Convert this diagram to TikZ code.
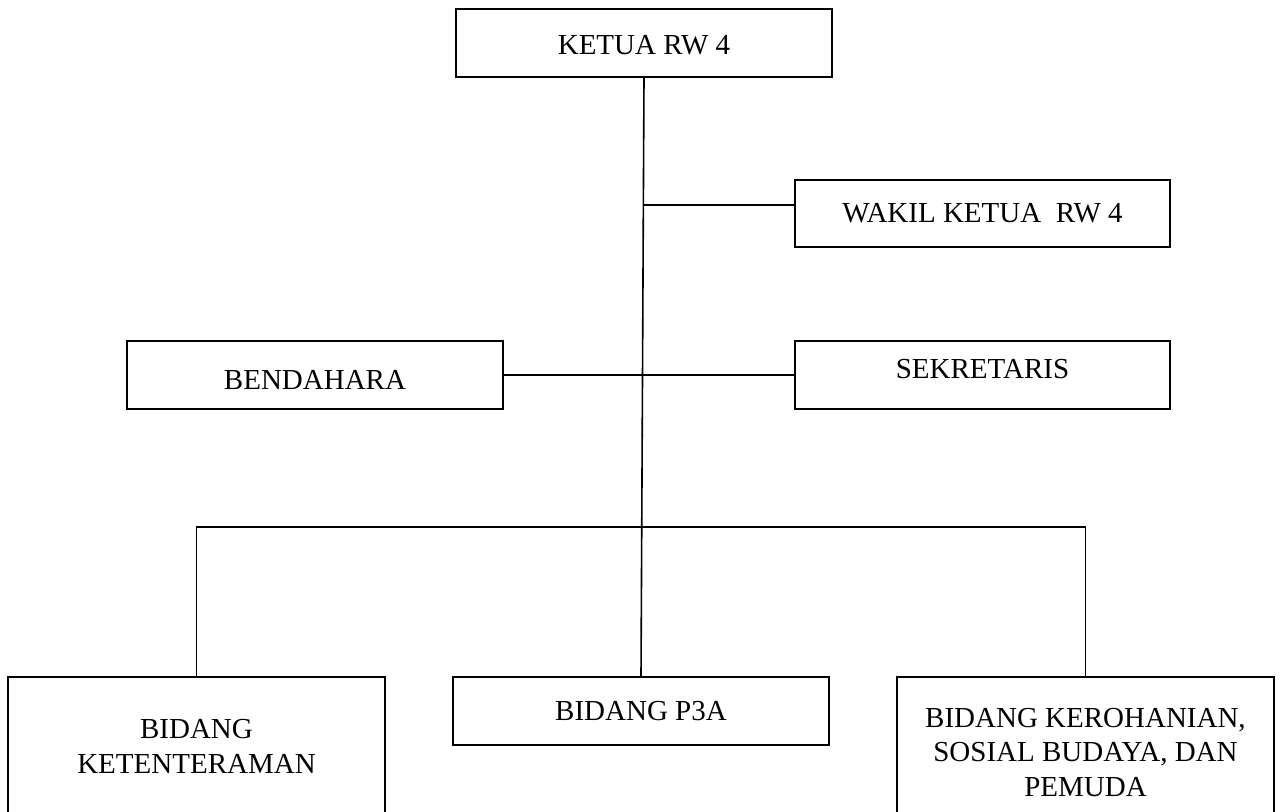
\documentclass[tikz,border=0pt]{standalone}
\usepackage{fontspec}
\setmainfont{Liberation Serif}
\begin{document}
\begin{tikzpicture}[x=0.5pt,y=-0.5pt,
  font=\fontsize{14.5}{17.25}\selectfont,
  box/.style={draw,line width=0.8pt,inner sep=0pt,minimum width=188pt,minimum height=34pt},
  link/.style={line width=0.8pt},
  every label/.style={align=center}]
\useasboundingbox (0,0) rectangle (1281,812);
% boxes
\node[box,label={[yshift=-1pt]center:KETUA RW 4}] (ketua) at (644,43) {};
\node[box,minimum width=187.5pt,minimum height=33.5pt,label={center:WAKIL KETUA\hspace{0.25em} RW 4}] (wakil) at (982.5,213.5) {};
\node[box,label={[yshift=-2.5pt]center:BENDAHARA}] (bend) at (315,375) {};
\node[box,minimum width=187.5pt,label={[yshift=3pt]center:SEKRETARIS}] (sek) at (982.5,375) {};
\node[box,label={center:BIDANG P3A}] (p3a) at (641,711) {};
\node[box,minimum width=188.5pt,minimum height=71.5pt,label={[yshift=1pt]center:BIDANG\\KETENTERAMAN}] (tent) at (196.5,748.5) {};
\node[box,minimum width=188.5pt,minimum height=71.5pt,label={[yshift=-2pt]center:{BIDANG KEROHANIAN,\\SOSIAL BUDAYA, DAN\\PEMUDA}}] (roh) at (1085.5,748.5) {};
% connectors
\coordinate (jw) at (644,205);
\coordinate (bus) at (643,527);
\draw[link] (ketua.south) -- (p3a.north);
\draw[link] (jw) -- (jw -| wakil.west);
\draw[link] (bend.east) -- (sek.west);
\draw[link] (tent.north) |- (bus) -| (roh.north);
\end{tikzpicture}
\end{document}
